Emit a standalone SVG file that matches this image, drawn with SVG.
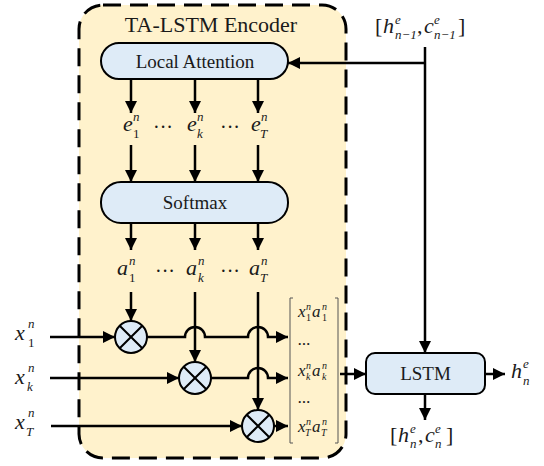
<svg xmlns="http://www.w3.org/2000/svg" width="544" height="466" viewBox="0 0 544 466" font-family="Liberation Serif, Times New Roman, serif">
<defs>
<marker id="ah" markerUnits="userSpaceOnUse" markerWidth="14" markerHeight="14" refX="12" refY="6.5" orient="auto">
<path d="M0,0.5 L12,6.5 L0,12.5 z" fill="#000"/>
</marker>
<style>
.ln{fill:none;stroke:#000;stroke-width:2.5;marker-end:url(#ah)}
.pl{fill:none;stroke:#000;stroke-width:2.5}
.box{fill:#DEEBF7;stroke:#000;stroke-width:2}
.lbl{font-size:19px;text-anchor:middle;fill:#1a1a1a}
.m{font-style:italic;font-size:22px;fill:#1a1a1a}
.s{font-style:italic;font-size:13px;fill:#1a1a1a}
.r{font-size:13px;fill:#1a1a1a}
.mm{font-style:italic;font-size:17px;fill:#1a1a1a}
.ms{font-style:italic;font-size:10px;fill:#1a1a1a}
.mr{font-size:10px;fill:#1a1a1a}
.br{font-size:22px;fill:#1a1a1a}
.dots{font-size:20px;fill:#1a1a1a}
.cross{stroke:#000;stroke-width:2}
</style>
</defs>

<g id="encoder">
<rect x="79" y="5" width="267" height="453" rx="24" fill="#FFF2CC" stroke="#000" stroke-width="3" stroke-dasharray="18 9"/>
<text x="211" y="32" font-size="22" text-anchor="middle" fill="#1a1a1a">TA-LSTM Encoder</text>
</g>

<g id="local-attention">
<rect class="box" x="101" y="43" width="187" height="36" rx="18"/>
<text class="lbl" x="195" y="68">Local Attention</text>
</g>

<g id="softmax">
<rect class="box" x="101" y="182" width="187" height="41" rx="20"/>
<text class="lbl" x="195" y="209">Softmax</text>
</g>

<g id="lstm">
<rect class="box" x="366" y="353" width="119" height="41" rx="9"/>
<text class="lbl" x="425.5" y="380">LSTM</text>
</g>

<g id="mul1">
<circle class="box" cx="131" cy="337" r="16"/>
<path class="cross" d="M119.7,325.7 L142.3,348.3 M142.3,325.7 L119.7,348.3"/>
</g>
<g id="mul2">
<circle class="box" cx="195" cy="378" r="16"/>
<path class="cross" d="M183.7,366.7 L206.3,389.3 M206.3,366.7 L183.7,389.3"/>
</g>
<g id="mul3">
<circle class="box" cx="258" cy="426" r="16"/>
<path class="cross" d="M246.7,414.7 L269.3,437.3 M269.3,414.7 L246.7,437.3"/>
</g>

<g id="e-labels">
<text class="m" x="123" y="131">e</text><text class="s" x="133" y="121">n</text><text class="r" x="133" y="138">1</text>
<text class="dots" x="153" y="134">···</text>
<text class="m" x="187" y="131">e</text><text class="s" x="197" y="121">n</text><text class="s" x="197" y="138">k</text>
<text class="dots" x="220" y="134">···</text>
<text class="m" x="251" y="131">e</text><text class="s" x="261" y="121">n</text><text class="s" x="260" y="138">T</text>
</g>

<g id="a-labels">
<text class="m" x="117" y="275">a</text><text class="s" x="129" y="265">n</text><text class="r" x="129" y="282">1</text>
<text class="dots" x="155" y="278">···</text>
<text class="m" x="186" y="275">a</text><text class="s" x="198" y="265">n</text><text class="s" x="198" y="282">k</text>
<text class="dots" x="220" y="278">···</text>
<text class="m" x="249" y="275">a</text><text class="s" x="261" y="265">n</text><text class="s" x="260" y="282">T</text>
</g>

<g id="x-labels">
<text class="m" x="15" y="340">x</text><text class="s" x="28" y="328">n</text><text class="r" x="28" y="347">1</text>
<text class="m" x="15" y="384">x</text><text class="s" x="28" y="372">n</text><text class="s" x="27" y="391">k</text>
<text class="m" x="15" y="429">x</text><text class="s" x="28" y="417">n</text><text class="s" x="26" y="436">T</text>
</g>

<g id="matrix">
<path d="M293,298 H290 V443 H293 M335,298 H338 V443 H335" fill="none" stroke="#555" stroke-width="1"/>
<text class="mm" x="298" y="317">x</text><text class="ms" x="306" y="310">n</text><text class="mr" x="306" y="321">1</text>
<text class="mm" x="312" y="317">a</text><text class="ms" x="322" y="310">n</text><text class="mr" x="322" y="321">1</text>
<text class="mm" x="298" y="345">...</text>
<text class="mm" x="298" y="376">x</text><text class="ms" x="306" y="369">n</text><text class="ms" x="306" y="380">k</text>
<text class="mm" x="312" y="376">a</text><text class="ms" x="322" y="369">n</text><text class="ms" x="322" y="380">k</text>
<text class="mm" x="298" y="403">...</text>
<text class="mm" x="298" y="432">x</text><text class="ms" x="306" y="425">n</text><text class="ms" x="305" y="436">T</text>
<text class="mm" x="312" y="432">a</text><text class="ms" x="322" y="425">n</text><text class="ms" x="321" y="436">T</text>
</g>

<g id="state-prev">
<text class="br" x="375" y="33">[</text>
<text class="m" x="383" y="33">h</text><text class="s" x="395" y="24">e</text><text class="s" x="395" y="39">n−1</text>
<text class="br" x="417" y="33">,</text>
<text class="m" x="424" y="33">c</text><text class="s" x="434" y="24">e</text><text class="s" x="434" y="39">n−1</text>
<text class="br" x="458" y="33">]</text>
</g>

<g id="state-out">
<text class="br" x="390" y="442">[</text>
<text class="m" x="398" y="442">h</text><text class="s" x="410" y="433">e</text><text class="s" x="410" y="448">n</text>
<text class="br" x="418" y="442">,</text>
<text class="m" x="425" y="442">c</text><text class="s" x="435" y="433">e</text><text class="s" x="435" y="448">n</text>
<text class="br" x="446" y="442">]</text>
</g>

<g id="h-out">
<text class="m" x="511" y="378">h</text><text class="s" x="523" y="368">e</text><text class="s" x="523" y="385">n</text>
</g>

<g id="connectors">
<path class="pl" d="M425,47 V63"/>
<path class="ln" d="M425,63 H288"/>
<path class="ln" d="M425,63 V353"/>
<path class="ln" d="M131,79 V113"/>
<path class="ln" d="M195,79 V113"/>
<path class="ln" d="M258,79 V113"/>
<path class="ln" d="M131,145 V182"/>
<path class="ln" d="M195,145 V182"/>
<path class="ln" d="M258,145 V182"/>
<path class="ln" d="M131,223 V250"/>
<path class="ln" d="M195,223 V250"/>
<path class="ln" d="M258,223 V250"/>
<path class="ln" d="M131,292 V321"/>
<path class="ln" d="M195,292 V362"/>
<path class="ln" d="M258,292 V410"/>
<path class="ln" d="M50,337 H115"/>
<path class="ln" d="M147,337 H185 A10,10 0 0 1 205,337 H248 A10,10 0 0 1 268,337 H288"/>
<path class="ln" d="M50,378 H179"/>
<path class="ln" d="M211,378 H248 A10,10 0 0 1 268,378 H288"/>
<path class="ln" d="M51,426 H242"/>
<path class="ln" d="M274,426 H288"/>
<path class="ln" d="M340,374 H366"/>
<path class="ln" d="M485,374 H505"/>
<path class="ln" d="M425,394 V420"/>
</g>
</svg>
